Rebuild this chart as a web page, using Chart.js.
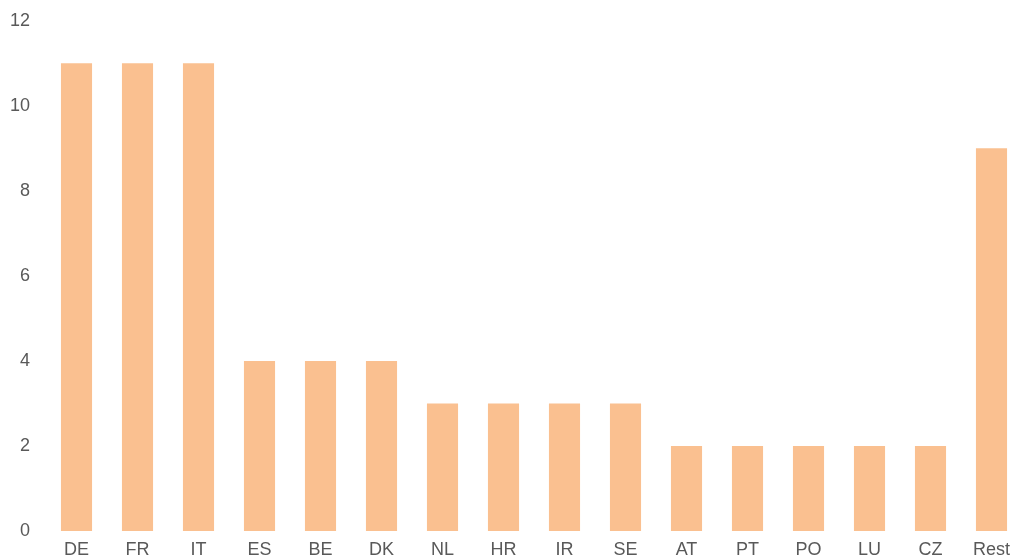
<!DOCTYPE html>
<html>
<head>
<meta charset="utf-8">
<script src="https://cdn.jsdelivr.net/npm/chart.js@4"></script>
<style>
    html, body { margin: 0; padding: 0; overflow: hidden; background: #fff; }
    #chart-container { width: 1030px; height: 564px; margin-top: -6px; }
    #bar-chart { display: block; }
</style>
</head>
<body>
<div id="chart-container"><canvas id="bar-chart" width="1030" height="564"></canvas></div>
<script>
// Chart data
var countries = ['DE', 'FR', 'IT', 'ES', 'BE', 'DK', 'NL', 'HR', 'IR', 'SE', 'AT', 'PT', 'PO', 'LU', 'CZ', 'Rest'];
var counts = [11, 11, 11, 4, 4, 4, 3, 3, 3, 3, 2, 2, 2, 2, 2, 9];
var yTicks = [0, 2, 4, 6, 8, 10, 12];

document.addEventListener('DOMContentLoaded', function() {
    var ctx = document.getElementById('bar-chart').getContext('2d');
    var barChart = new Chart(ctx, {
        type: 'bar',
        data: {
            labels: countries,
            datasets: [{
                label: 'Count',
                data: counts,
                backgroundColor: '#FAC090',
                barPercentage: 0.51,
                categoryPercentage: 1.0
            }]
        },
        options: {
            responsive: false,
            maintainAspectRatio: false,
            animation: false,
            layout: { padding: { top: 6, left: 10, right: 8, bottom: 0 } },
            plugins: {
                legend: { display: false },
                tooltip: { enabled: false }
            },
            scales: {
                x: {
                    grid: { display: false, drawTicks: false },
                    border: { display: false },
                    afterFit: function(axis) { axis.height = 27; },
                    ticks: {
                        color: '#595959',
                        padding: 8,
                        font: { family: 'Liberation Sans, Arial, sans-serif', size: 18 },
                        maxRotation: 0,
                        autoSkip: false
                    }
                },
                y: {
                    min: yTicks[0],
                    max: yTicks[yTicks.length - 1],
                    grid: { display: false, drawTicks: false },
                    border: { display: false },
                    afterFit: function(axis) { axis.width = 36; },
                    ticks: {
                        stepSize: 2,
                        autoSkip: false,
                        color: '#595959',
                        padding: 16,
                        font: { family: 'Liberation Sans, Arial, sans-serif', size: 18 }
                    }
                }
            }
        }
    });
});
</script>
</body>
</html>
